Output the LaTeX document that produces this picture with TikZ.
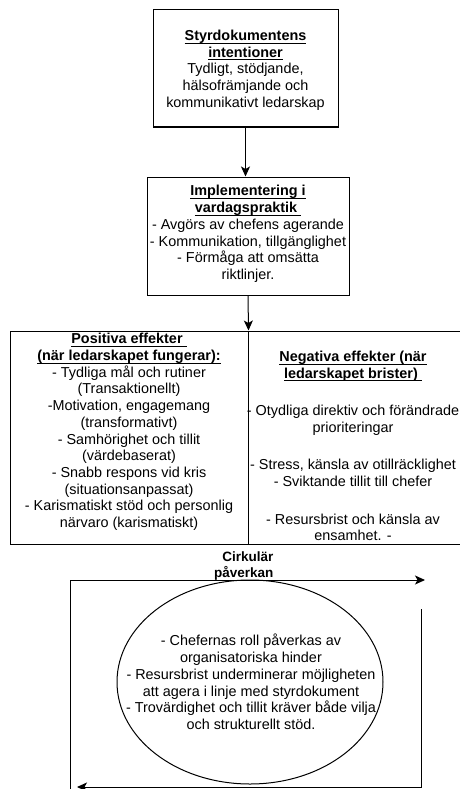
\documentclass[tikz,border=0pt]{standalone}
\usepackage{fontspec}
\setmainfont{Liberation Sans}
\usetikzlibrary{arrows.meta,shapes.geometric}
\newcommand{\hdr}[1]{\setbox0\hbox{\textbf{#1}}\rlap{\rule[-3.2pt]{\wd0}{0.9pt}}\box0}
\begin{document}
\begin{tikzpicture}[x=1pt,y=-1pt,line width=1pt,
  box/.style={draw,inner sep=0pt},
  txt/.style={align=center,inner sep=0pt,font=\fontsize{14.4}{16.7}\selectfont},
  pil/.style={-{Stealth[length=10pt,width=9pt,inset=2.5pt]}}]
\useasboundingbox (0,0) rectangle (459,789);
\node[box,minimum width=185pt,minimum height=117pt] (styr) at (245.5,68.5) {};
\node[box,minimum width=202pt,minimum height=118pt] (impl) at (248,236) {};
\node[box,minimum width=238pt,minimum height=213pt] (pos) at (129,437.5) {};
\node[box,minimum width=216pt,minimum height=213pt] (neg) at (356,437.5) {};
\node[box,ellipse,minimum width=266pt,minimum height=204pt] (sirk) at (250,682) {};
\node[txt] (styr-t) at (245.5,70) {\hdr{Styrdokumentens}\\\hdr{intentioner}\\Tydligt, stödjande,\\hälsofrämjande och\\kommunikativt ledarskap};
\node[txt] (impl-t) at (248,234) {\hdr{Implementering i}\\\hdr{vardagspraktik }\\- Avgörs av chefens agerande\\- Kommunikation, tillgänglighet\\- Förmåga att omsätta\\riktlinjer.};
\node[txt] (pos-t) at (129,432) {\hdr{Positiva effekter }\\\hdr{(när ledarskapet fungerar):}\\- Tydliga mål och rutiner\\(Transaktionellt)\\-Motivation, engagemang\\(transformativt)\\- Samhörighet och tillit\\(värdebaserat)\\- Snabb respons vid kris\\(situationsanpassat)\\- Karismatiskt stöd och personlig\\närvaro (karismatiskt)};
\node[txt] (neg-t) at (353,446) {\hdr{Negativa effekter (när}\\\hdr{ledarskapet brister) }\\[21pt]- Otydliga direktiv och förändrade\\prioriteringar\\[20.5pt]- Stress, känsla av otillräcklighet\\- Sviktande tillit till chefer\\[21pt]- Resursbrist och känsla av\\ensamhet. -};
\node[txt] (sirk-t) at (251,682) {- Chefernas roll påverkas av\\organisatoriska hinder\\- Resursbrist underminerar möjligheten\\att agera i linje med styrdokument\\- Trovärdighet och tillit kräver både vilja\\och strukturellt stöd.};
\node[txt,align=right,anchor=south east,font=\fontsize{13.5}{16}\selectfont\bfseries] (cirk) at (274,580.5) {Cirkulär\\påverkan};
\draw[pil] (styr.south) -- (styr.south |- impl.north);
\draw[pil] (impl.south) -- (pos.north east);
\coordinate (v1) at (70,790);
\coordinate (h1) at (425,580);
\coordinate (v2) at (421,609);
\coordinate (h2) at (77,787);
\draw[pil] (v1) |- (h1);
\draw[pil] (v2) |- (h2);
\end{tikzpicture}
\end{document}
